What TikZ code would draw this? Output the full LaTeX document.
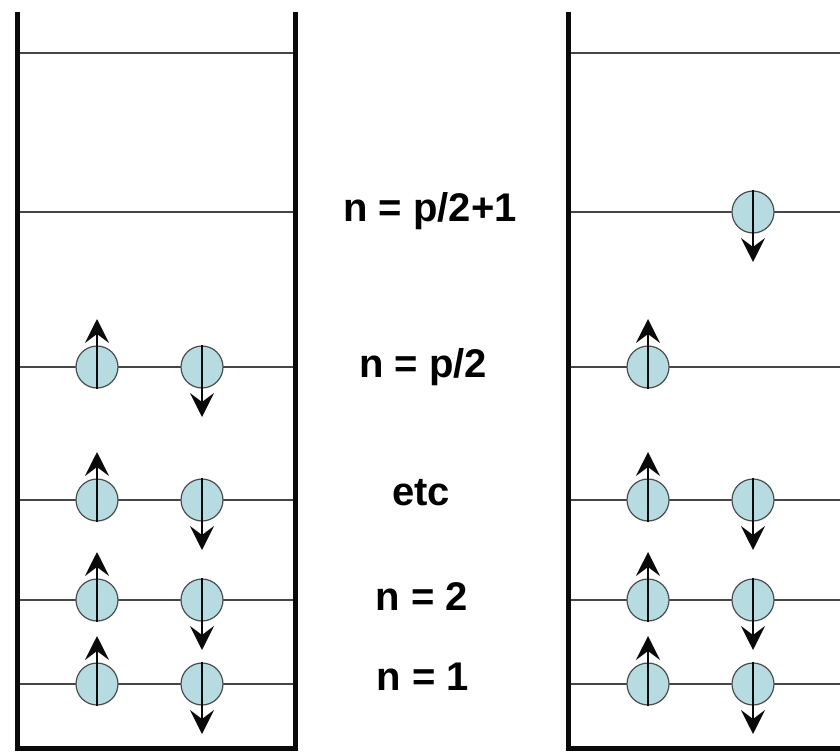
\documentclass[tikz,border=0pt]{standalone}
\usepackage{fontspec}
\setmainfont{Liberation Sans}
\usepackage{xcolor}
\definecolor{orbital}{RGB}{182,219,224}
\definecolor{levelgray}{RGB}{70,70,70}
\definecolor{dark}{RGB}{10,10,10}
\usepackage{tikz}
\usetikzlibrary{
    arrows.meta,
    positioning,
    calc
}

\tikzset{
    wallline/.style={dark, line width=5pt},
    levelline/.style={levelgray, line width=2pt},
    electron/.style={circle, draw=black!70, fill=orbital, line width=1.2pt,
        minimum size=42pt, inner sep=0pt},
    spin/.style={dark, line width=2pt,
        -{Stealth[length=24pt, width=24pt, inset=9pt]}},
    levelname/.style={anchor=base, font=\fontsize{40}{48}\selectfont\bfseries, inner sep=0pt}
}

% electron with spin up / spin down: name, x, y
\newcommand{\spinup}[3]{
    \node[electron] (#1) at (#2,#3) {};
    \coordinate (#1tip) at (#2,#3-48);
    \draw[spin] (#1.south) -- (#1tip);
}
\newcommand{\spindown}[3]{
    \node[electron] (#1) at (#2,#3) {};
    \coordinate (#1tip) at (#2,#3+50);
    \draw[spin] (#1.north) -- (#1tip);
}

\begin{document}
\begin{tikzpicture}[x=1pt, y=-1pt]
        \useasboundingbox (0,0) rectangle (840,754);

        % energy levels
        \foreach \lev in {53,212,367,500,600,684} {
            \draw[levelline] (17,\lev) -- (295,\lev);
            \draw[levelline] (568,\lev) -- (840,\lev);
        }

        % the two wells
        \draw[wallline] (17,12) -- (17,748) -- (295,748) -- (295,12);
        \draw[wallline] (568,12) -- (568,748) -- (840,748);

        % left well: p electrons paired
        \spinup{la1}{97}{684}   \spindown{lb1}{202}{684}
        \spinup{la2}{97}{600}   \spindown{lb2}{202}{600}
        \spinup{la3}{97}{500}   \spindown{lb3}{202}{500}
        \spinup{la4}{97}{367}   \spindown{lb4}{202}{367}

        % right well: one electron promoted
        \spinup{ra1}{648}{684}  \spindown{rb1}{753}{684}
        \spinup{ra2}{648}{600}  \spindown{rb2}{753}{600}
        \spinup{ra3}{648}{500}  \spindown{rb3}{753}{500}
        \spinup{ra4}{648}{367}
        \spindown{rb5}{753}{212}

        % level names
        \node[levelname] (nhigh) at (430,222) {n = p/2+1};
        \node[levelname] (nhalf) at (423,377) {n = p/2};
        \node[levelname] (netc)  at (421,505) {etc};
        \node[levelname] (ntwo)  at (422,610) {n = 2};
        \node[levelname] (none)  at (423,690) {n = 1};
    \end{tikzpicture}
\end{document}
